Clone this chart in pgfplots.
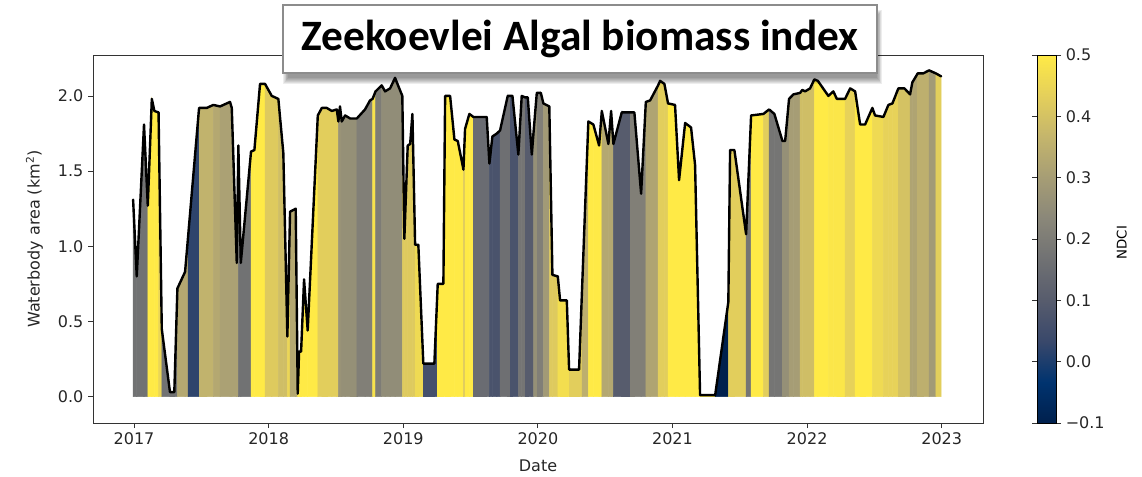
\documentclass[border=0pt]{standalone}
\usepackage{fontspec}
\setmainfont{DejaVu Sans}
\newfontfamily\titlefont{Carlito}
\usepackage{pgfplots}
\usepackage{pgfplotstable}
\pgfplotsset{compat=1.18}

% date (decimal year), waterbody area (km2), NDCI of the interval that starts there
\pgfplotstableread{
t a c
2016.993 1.31 0.17
2017.020 0.80 0.17
2017.074 1.81 0.17
2017.102 1.27 0.50
2017.132 1.98 0.50
2017.151 1.90 0.50
2017.182 1.89 0.45
2017.206 0.45 0.17
2017.267 0.03 0.17
2017.299 0.03 0.17
2017.322 0.72 0.33
2017.379 0.83 0.33
2017.401 1.06 0.02
2017.483 1.92 0.36
2017.540 1.92 0.36
2017.589 1.94 0.33
2017.639 1.93 0.31
2017.713 1.96 0.31
2017.726 1.92 0.31
2017.763 0.89 0.31
2017.775 1.67 0.17
2017.793 0.89 0.17
2017.869 1.63 0.50
2017.894 1.64 0.50
2017.936 2.08 0.50
2017.973 2.08 0.42
2018.023 2.00 0.42
2018.072 1.98 0.39
2018.109 1.62 0.39
2018.139 0.40 0.45
2018.159 1.23 0.33
2018.201 1.25 0.33
2018.216 0.02 0.50
2018.226 0.30 0.50
2018.241 0.30 0.50
2018.263 0.78 0.50
2018.290 0.44 0.50
2018.365 1.87 0.43
2018.395 1.92 0.43
2018.432 1.92 0.43
2018.469 1.90 0.43
2018.506 1.91 0.43
2018.518 1.83 0.27
2018.530 1.93 0.27
2018.543 1.83 0.26
2018.568 1.87 0.26
2018.605 1.85 0.26
2018.655 1.85 0.21
2018.716 1.91 0.21
2018.753 1.97 0.21
2018.772 1.98 0.48
2018.794 2.03 0.20
2018.840 2.07 0.25
2018.865 2.03 0.25
2018.902 2.05 0.25
2018.939 2.12 0.25
2018.993 2.00 0.42
2019.008 1.05 0.42
2019.033 1.67 0.42
2019.051 1.68 0.42
2019.068 1.88 0.42
2019.088 1.01 0.46
2019.112 1.01 0.46
2019.149 0.22 0.06
2019.231 0.22 0.06
2019.256 0.75 0.50
2019.298 0.75 0.50
2019.311 2.00 0.50
2019.348 2.00 0.50
2019.380 1.71 0.50
2019.405 1.70 0.50
2019.447 1.51 0.42
2019.459 1.78 0.50
2019.491 1.88 0.50
2019.521 1.86 0.15
2019.620 1.86 0.15
2019.640 1.55 0.07
2019.662 1.73 0.07
2019.695 1.75 0.07
2019.719 1.77 0.16
2019.776 2.00 0.16
2019.793 2.00 0.07
2019.811 2.00 0.07
2019.855 1.61 0.18
2019.880 2.00 0.18
2019.905 1.99 0.10
2019.925 1.99 0.10
2019.955 1.61 0.10
2019.968 1.76 0.26
2019.992 2.02 0.21
2020.022 2.02 0.21
2020.041 1.95 0.29
2020.085 1.93 0.42
2020.108 0.81 0.42
2020.148 0.80 0.47
2020.165 0.64 0.47
2020.215 0.64 0.47
2020.232 0.18 0.43
2020.306 0.18 0.43
2020.328 0.71 0.35
2020.375 1.83 0.50
2020.412 1.81 0.50
2020.455 1.67 0.50
2020.475 1.90 0.33
2020.524 1.68 0.33
2020.544 1.90 0.33
2020.561 1.68 0.10
2020.623 1.89 0.10
2020.685 1.89 0.21
2020.717 1.89 0.21
2020.767 1.35 0.21
2020.802 1.96 0.32
2020.834 1.97 0.32
2020.893 2.07 0.43
2020.908 2.10 0.43
2020.940 2.08 0.43
2020.967 1.95 0.50
2021.019 1.94 0.50
2021.049 1.44 0.50
2021.094 1.82 0.50
2021.138 1.79 0.50
2021.168 1.54 0.50
2021.205 0.01 0.50
2021.317 0.01 -0.10
2021.415 0.63 0.43
2021.428 1.64 0.43
2021.460 1.64 0.43
2021.547 1.08 0.18
2021.584 1.87 0.50
2021.675 1.88 0.43
2021.718 1.91 0.18
2021.757 1.88 0.18
2021.817 1.70 0.26
2021.837 1.70 0.26
2021.866 1.98 0.30
2021.898 2.01 0.30
2021.948 2.02 0.39
2021.965 2.04 0.39
2021.985 2.03 0.39
2022.022 2.05 0.39
2022.054 2.11 0.50
2022.080 2.10 0.50
2022.158 2.00 0.49
2022.195 2.03 0.49
2022.221 1.98 0.49
2022.282 1.98 0.44
2022.320 2.05 0.44
2022.357 2.03 0.50
2022.394 1.81 0.50
2022.431 1.81 0.50
2022.485 1.92 0.46
2022.505 1.87 0.46
2022.567 1.86 0.44
2022.604 1.94 0.44
2022.634 1.95 0.44
2022.678 2.05 0.40
2022.723 2.05 0.40
2022.765 2.01 0.32
2022.782 2.09 0.32
2022.822 2.15 0.35
2022.864 2.15 0.35
2022.906 2.17 0.29
2022.956 2.15 0.43
2022.996 2.13 0.43
}\wbdata
\pgfplotstablegetrowsof{\wbdata}
\edef\npts{\pgfplotsretval}
% two copies: bottom edge (y=0) and top edge of the coloured strips
\pgfplotstablevertcat{\strips}{\wbdata}
\pgfplotstablevertcat{\strips}{\wbdata}

\begin{document}
\begin{tikzpicture}
\path[use as bounding box] (0,0) rectangle (856.5pt,357pt);
\begin{axis}[
  at={(69.75pt,39.75pt)}, anchor=south west,
  scale only axis, width=667.5pt, height=276pt,
  xmin=2016.695, xmax=2023.307,
  ymin=-0.175, ymax=2.272,
  xtick={2017,2018,2019,2020,2021,2022,2023},
  xticklabels={2017,2018,2019,2020,2021,2022,2023},
  ytick={0,0.5,1,1.5,2},
  yticklabels={0.0,0.5,1.0,1.5,2.0},
  tick pos=left, tick align=outside,
  major tick length=3.75pt,
  every tick/.style={black!80, line width=0.6pt},
  axis line style={black!80, line width=0.6pt},
  tick label style={font=\fontsize{12}{14}\selectfont, text=black!85},
  label style={font=\fontsize{12}{14}\selectfont, text=black!85},
  xlabel={Date},
  ylabel={Waterbody area (km\textsuperscript{2})},
  xlabel style={at={(axis description cs:0.5,-0.1168)}, anchor=center},
  ylabel style={at={(axis description cs:-0.0657,0.5)}, anchor=center},
  colormap={cividis}{rgb255=(0,32,77) rgb255=(0,51,111) rgb255=(57,72,107)
    rgb255=(87,92,109) rgb255=(112,113,115) rgb255=(138,135,121)
    rgb255=(166,157,117) rgb255=(196,181,108) rgb255=(228,207,91)
    rgb255=(255,234,70)},
  point meta min=-0.1, point meta max=0.5,
  colorbar,
  colorbar style={
    at={(1.0607,0)}, anchor=south west,
    scale only axis, width=14.25pt, height=276pt,
    ytick={-0.1,0,0.1,0.2,0.3,0.4,0.5},
    yticklabels={−0.1,0.0,0.1,0.2,0.3,0.4,0.5},
    tick align=outside, major tick length=3.75pt,
    ylabel={NDCI},
    ylabel style={at={(axis description cs:4.46,0.49)}, anchor=center, rotate=0},
  },
]
\addplot[surf, shader=flat corner, mesh/cols=\npts, mesh/rows=2, point meta=explicit]
  table[x=t, y expr={\coordindex<\npts ? 0 : \thisrow{a}}, meta=c] {\strips};
\addplot[black, line width=1.8pt, line join=round, line cap=round] table[x=t, y=a] {\wbdata};
\end{axis}
% soft shadow behind the title box
\foreach \k in {0,1,...,6}{
  \fill[black, opacity=0.07]
    ({212.25pt+4pt-\k*0.7pt},{302.25pt-4pt-\k*0.7pt}) rectangle
    ({657.75pt+4pt+\k*0.7pt-4.2pt},{353.25pt-4pt+\k*0.7pt-4.2pt});
}
\node[draw=black!45, line width=0.8pt, fill=white,
      minimum width=445.5pt, minimum height=51pt, inner sep=0pt]
  at (435pt,327.75pt) {\titlefont\bfseries\fontsize{32.5}{36}\selectfont Zeekoevlei Algal biomass index};
\end{tikzpicture}
\end{document}
